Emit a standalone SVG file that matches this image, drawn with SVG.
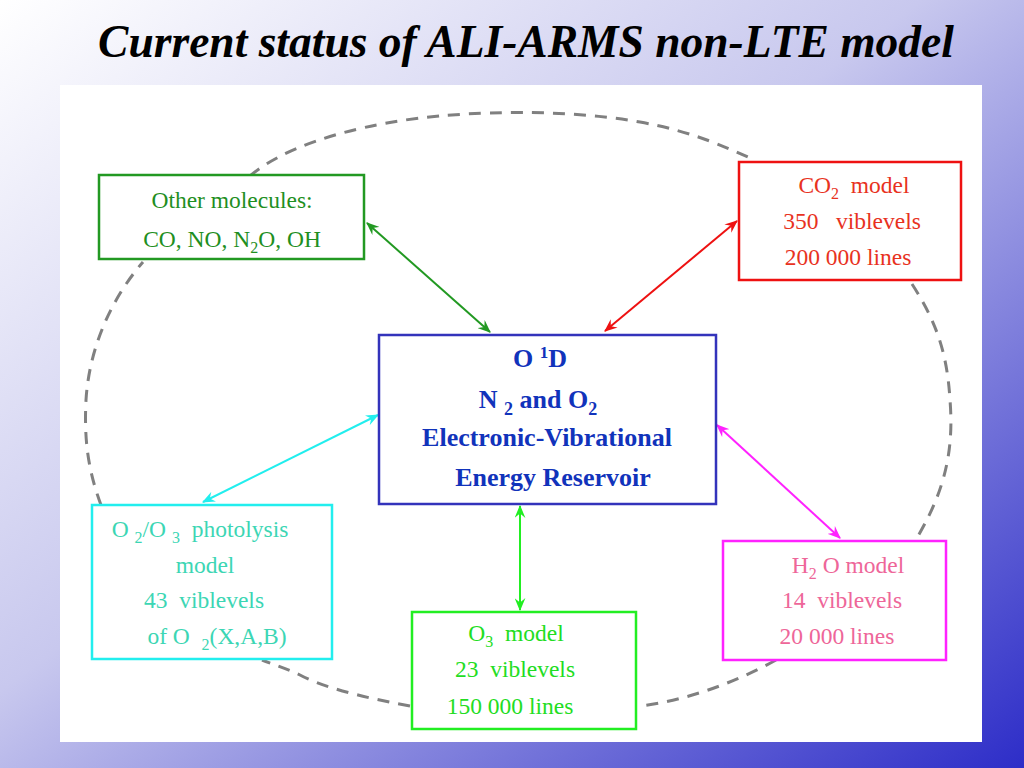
<svg xmlns="http://www.w3.org/2000/svg" width="1024" height="768" viewBox="0 0 1024 768">
<defs>
<linearGradient id="bg" x1="0" y1="0" x2="1" y2="1">
<stop offset="0" stop-color="#ffffff"/>
<stop offset="0.45" stop-color="#c8c8ee"/>
<stop offset="1" stop-color="#2d2dc8"/>
</linearGradient>
<marker id="mDG" viewBox="0 0 12 10" refX="11" refY="5" markerWidth="13" markerHeight="11" markerUnits="userSpaceOnUse" orient="auto-start-reverse"><path d="M0,0 L12,5 L0,10 L4,5 Z" fill="#229922"/></marker>
<marker id="mR" viewBox="0 0 12 10" refX="11" refY="5" markerWidth="13" markerHeight="11" markerUnits="userSpaceOnUse" orient="auto-start-reverse"><path d="M0,0 L12,5 L0,10 L4,5 Z" fill="#ee1111"/></marker>
<marker id="mC" viewBox="0 0 12 10" refX="11" refY="5" markerWidth="13" markerHeight="11" markerUnits="userSpaceOnUse" orient="auto-start-reverse"><path d="M0,0 L12,5 L0,10 L4,5 Z" fill="#22eeee"/></marker>
<marker id="mM" viewBox="0 0 12 10" refX="11" refY="5" markerWidth="13" markerHeight="11" markerUnits="userSpaceOnUse" orient="auto-start-reverse"><path d="M0,0 L12,5 L0,10 L4,5 Z" fill="#ff22ff"/></marker>
<marker id="mG" viewBox="0 0 12 10" refX="11" refY="5" markerWidth="13" markerHeight="11" markerUnits="userSpaceOnUse" orient="auto-start-reverse"><path d="M0,0 L12,5 L0,10 L4,5 Z" fill="#22ee22"/></marker>
</defs>
<style>
text{font-family:"Liberation Serif","Times New Roman",serif;font-size:23.5px;text-anchor:middle}
.t{font-size:45.5px;font-weight:bold;font-style:italic;fill:#000}
.box{fill:#fff;stroke-width:2.5}
.c{font-weight:bold;font-size:26px;fill:#1133bb}
.ar{fill:none;stroke-width:2}
.sub{font-size:16px}
</style>
<rect x="0" y="0" width="1024" height="768" fill="url(#bg)"/>
<rect x="60" y="85" width="922" height="657" fill="#ffffff"/>
<text class="t" x="526" y="57">Current status of ALI-ARMS non-LTE model</text>

<path id="loop" d="M250,176 C280,150 340,128 420,118 C470,112 560,108 640,122 C700,133 730,150 755,160 M912,284 C935,320 947,350 950,400 C954,450 945,490 918,536 M776,660 C740,680 690,700 640,706 M410,706 C360,697 320,686 300,675 C285,668 275,665 262,660 M101,505 C88,470 84,440 86,400 C89,350 110,300 143,262" fill="none" stroke="#808080" stroke-width="3" stroke-dasharray="12,9"/>

<g id="connectors">
<line class="ar" x1="367" y1="223" x2="490" y2="332" stroke="#229922" marker-start="url(#mDG)" marker-end="url(#mDG)"/>
<line class="ar" x1="737" y1="221" x2="605" y2="331" stroke="#ee1111" marker-start="url(#mR)" marker-end="url(#mR)"/>
<line class="ar" x1="378" y1="415" x2="203" y2="502" stroke="#22eeee" marker-start="url(#mC)" marker-end="url(#mC)"/>
<line class="ar" x1="717" y1="425" x2="840" y2="538" stroke="#ff22ff" marker-start="url(#mM)" marker-end="url(#mM)"/>
<line class="ar" x1="520" y1="506" x2="520" y2="610" stroke="#22ee22" marker-start="url(#mG)" marker-end="url(#mG)"/>
</g>

<g id="other">
<rect class="box" x="99" y="175" width="265" height="84" stroke="#229922"/>
<text x="232" y="208" fill="#1f8f1f">Other molecules:</text>
<text x="232" y="247" fill="#1f8f1f">CO, NO, N<tspan class="sub" dy="6">2</tspan><tspan dy="-6">O, OH</tspan></text>
</g>

<g id="co2">
<rect class="box" x="739" y="162" width="222" height="118" stroke="#ee1111"/>
<text x="854" y="193" fill="#e8321e" xml:space="preserve">CO<tspan class="sub" dy="6">2</tspan><tspan dy="-6">  model</tspan></text>
<text x="852" y="229" fill="#e8321e" xml:space="preserve">350   viblevels</text>
<text x="848" y="265" fill="#e8321e">200 000 lines</text>
</g>

<g id="reservoir">
<rect class="box" x="379" y="335" width="337" height="169" stroke="#3333bb"/>
<text class="c" x="540" y="367">O <tspan font-size="17" dy="-9">1</tspan><tspan dy="9">D</tspan></text>
<text class="c" x="538" y="408" xml:space="preserve">N <tspan font-size="18" dy="7">2</tspan><tspan dy="-7"> and O</tspan><tspan font-size="18" dy="7">2</tspan></text>
<text class="c" x="547" y="446">Electronic-Vibrational</text>
<text class="c" x="553" y="486">Energy Reservoir</text>
</g>

<g id="photolysis">
<rect class="box" x="92" y="505" width="240" height="154" stroke="#22eeee"/>
<text x="200" y="537" fill="#3cd6b4" xml:space="preserve">O <tspan class="sub" dy="6">2</tspan><tspan dy="-6">/O </tspan><tspan class="sub" dy="6">3</tspan><tspan dy="-6">  photolysis</tspan></text>
<text x="205" y="573" fill="#3cd6b4">model</text>
<text x="204" y="608" fill="#3cd6b4" xml:space="preserve">43  viblevels</text>
<text x="217" y="644" fill="#3cd6b4" xml:space="preserve">of O  <tspan class="sub" dy="6">2</tspan><tspan dy="-6">(X,A,B)</tspan></text>
</g>

<g id="o3">
<rect class="box" x="412" y="612" width="224" height="117" stroke="#22ee22"/>
<text x="516" y="641" fill="#22dd22" xml:space="preserve">O<tspan class="sub" dy="6">3</tspan><tspan dy="-6">  model</tspan></text>
<text x="515" y="677" fill="#22dd22" xml:space="preserve">23  viblevels</text>
<text x="510" y="714" fill="#22dd22">150 000 lines</text>
</g>

<g id="h2o">
<rect class="box" x="723" y="541" width="223" height="119" stroke="#ff22ff"/>
<text x="848" y="573" fill="#ee6699">H<tspan class="sub" dy="6">2</tspan><tspan dy="-6"> O model</tspan></text>
<text x="842" y="608" fill="#ee6699" xml:space="preserve">14  viblevels</text>
<text x="837" y="644" fill="#ee6699">20 000 lines</text>
</g>
</svg>
